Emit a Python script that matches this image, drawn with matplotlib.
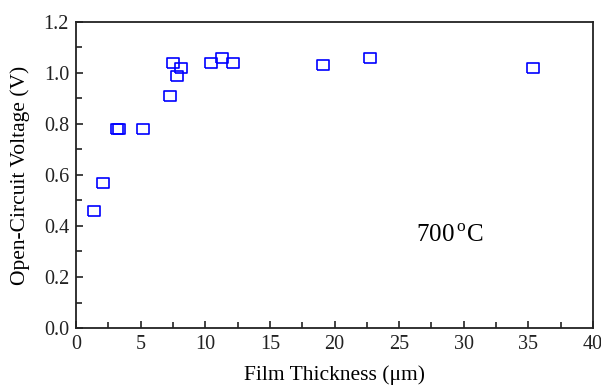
import matplotlib
matplotlib.use("Agg")
import matplotlib.pyplot as plt
from matplotlib.ticker import MultipleLocator, FormatStrFormatter

plt.rcParams["font.family"] = ["Liberation Serif", "DejaVu Serif"]
plt.rcParams["mathtext.fontset"] = "custom"
plt.rcParams["mathtext.rm"] = "Liberation Serif"

thickness_um = [1.4, 2.1, 3.2, 3.3, 5.2, 7.3, 7.5, 7.8, 8.1, 10.45, 11.3, 12.15, 19.1, 22.75, 35.35]
voc_v = [0.46, 0.57, 0.78, 0.78, 0.78, 0.91, 1.04, 0.99, 1.02, 1.04, 1.06, 1.04, 1.03, 1.06, 1.02]

rect = [(-1.25, -1), (1.25, -1), (1.25, 1), (-1.25, 1), (-1.25, -1)]

fig = plt.figure(figsize=(6.01, 3.85), dpi=100)
ax = fig.add_axes([76 / 601, 1 - 328 / 385, (593 - 76) / 601, (328 - 22) / 385])

ax.plot(thickness_um, voc_v, linestyle="none", marker=rect, markersize=9,
        markerfacecolor="none", markeredgecolor="#0000ff", markeredgewidth=1.2)

ax.set_xlim(0, 40)
ax.set_ylim(0, 1.2)
ax.xaxis.set_major_locator(MultipleLocator(5))
ax.xaxis.set_minor_locator(MultipleLocator(2.5))
ax.yaxis.set_major_locator(MultipleLocator(0.2))
ax.yaxis.set_minor_locator(MultipleLocator(0.1))
ax.yaxis.set_major_formatter(FormatStrFormatter("%.1f"))
ax.tick_params(which="both", direction="in", top=False, right=False,
               labelsize=14.5, width=1.2, colors="#222222")
ax.tick_params(which="major", length=5, pad=5)
ax.tick_params(which="minor", length=4)
for s in ax.spines.values():
    s.set_linewidth(1.3)
    s.set_color("#222222")

ax.set_xlabel("Film Thickness (\u03bcm)", fontsize=15.5, labelpad=8)
ax.set_ylabel("Open-Circuit Voltage (V)", fontsize=15.5, labelpad=10)
ax.text(0.787, 0.30, "700$^{\\rm\\,o}$C", transform=ax.transAxes, fontsize=18,
        ha="right", va="center")

fig.savefig("out.png", dpi=100)
